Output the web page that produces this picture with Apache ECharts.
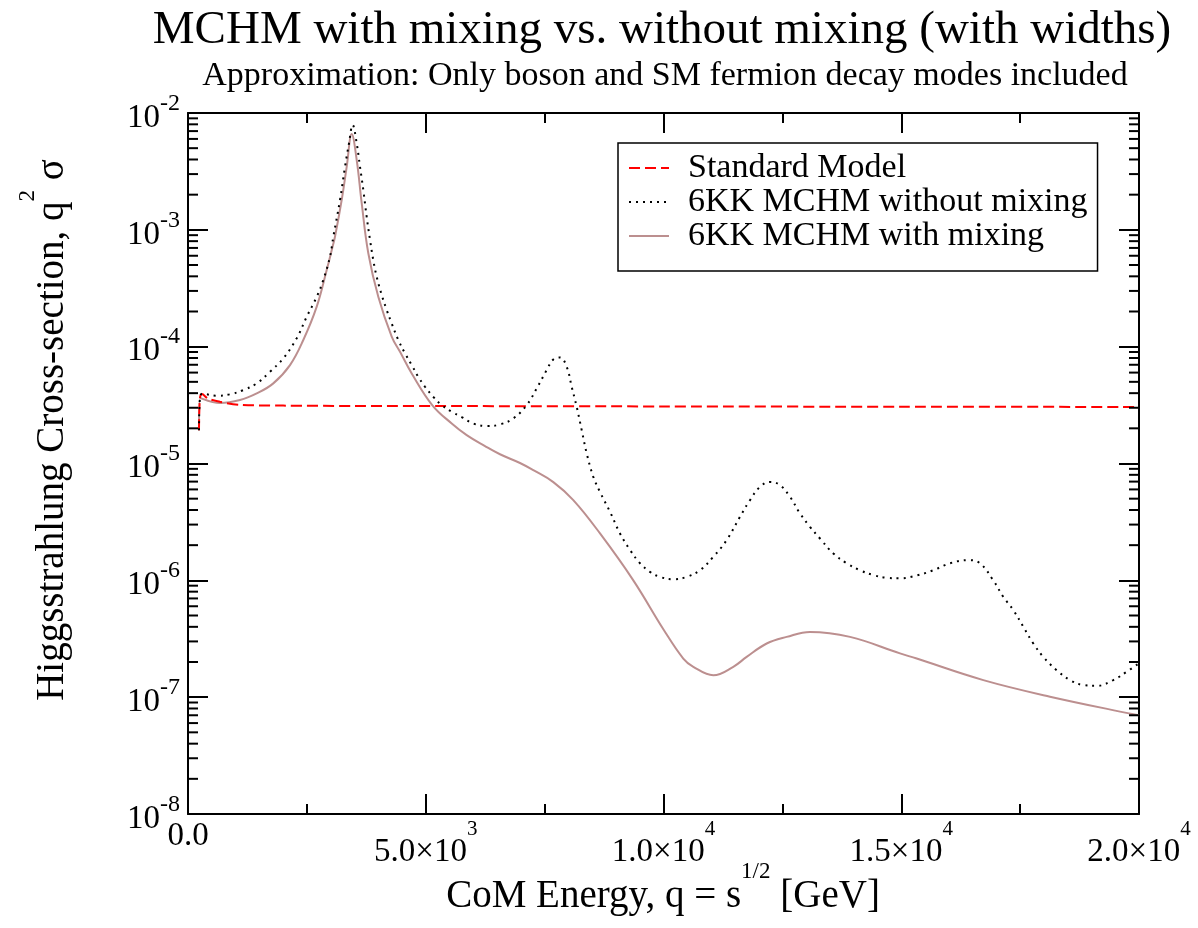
<!DOCTYPE html>
<html>
<head>
<meta charset="utf-8">
<script src="https://cdn.jsdelivr.net/npm/echarts@6/dist/echarts.min.js"></script>
<style>
  html, body { margin: 0; padding: 0; background: #fff; }
  #chart { width: 1198px; height: 928px; }
</style>
</head>
<body>
<div id="chart"></div>
<script>
// Standard Model
const smX = [231, 250, 294, 420, 673, 1094, 2000, 3500, 6000, 10000, 15000, 20000];
const smY = [1.93e-5, 3.6e-5, 3.93e-5, 3.6e-5, 3.37e-5, 3.18e-5, 3.13e-5, 3.11e-5, 3.1e-5, 3.08e-5, 3.06e-5, 3.05e-5];

// 6KK MCHM without mixing
const noMixX = [231, 250, 300, 604, 883, 1163, 1445, 1724, 2004, 2286, 2496, 2707, 2845, 2986, 3056, 3197, 3302, 3386, 3463,
  3548, 3617, 3687, 3758, 3828, 3897, 3968, 4074, 4179, 4284, 4423, 4564, 4705, 4843, 4984, 5159, 5335, 5546, 5756, 6000,
  6282, 6561, 6841, 7123, 7333, 7544, 7683, 7823, 7964, 8069, 8175, 8280, 8385, 8524, 8665, 8875, 9085, 9296, 9506, 9716,
  9926, 10206, 10488, 10768, 11047, 11329, 11609, 11819, 12029, 12240, 12450, 12660, 12871, 13081, 13291, 13571, 13852,
  14133, 14412, 14694, 14974, 15325, 15674, 16025, 16410, 16656, 16935, 17146, 17357, 17567, 17777, 17988, 18269, 18549,
  18830, 19110, 19460, 19741, 20000];
const noMixY = [1.93e-5, 3.6e-5, 3.95e-5, 3.8e-5, 3.91e-5, 4.25e-5, 4.85e-5, 6.1e-5, 7.94e-5, 1.18e-4, 1.8e-4, 2.67e-4, 3.72e-4, 5.89e-4, 8.7e-4, 1.8e-3, 3.47e-3, 5.5e-3, 7.9e-3,
  5.5e-3, 3.47e-3, 2.19e-3, 1.29e-3, 8.2e-4, 5.5e-4, 3.97e-4, 2.77e-4, 2.06e-4, 1.58e-4, 1.14e-4, 8.77e-5, 6.96e-5, 5.52e-5, 4.54e-5, 3.72e-5, 3.16e-5, 2.77e-5, 2.5e-5, 2.2e-5,
  2.09e-5, 2.16e-5, 2.43e-5, 3.16e-5, 4.39e-5, 6.31e-5, 7.78e-5, 8.09e-5, 6.73e-5, 4.54e-5, 3.05e-5, 1.93e-5, 1.22e-5, 7.69e-6, 5.7e-6, 3.86e-6, 2.52e-6, 1.82e-6, 1.4e-6, 1.18e-6,
  1.07e-6, 1.02e-6, 1.07e-6, 1.22e-6, 1.59e-6, 2.21e-6, 3.5e-6, 4.86e-6, 6.31e-6, 6.96e-6, 6.53e-6, 5.19e-6, 3.74e-6, 2.87e-6, 2.28e-6, 1.7e-6, 1.4e-6,
  1.22e-6, 1.11e-6, 1.05e-6, 1.04e-6, 1.1e-6, 1.22e-6, 1.4e-6, 1.49e-6, 1.4e-6, 1.0e-6, 7.23e-7, 5.56e-7, 4.0e-7, 2.88e-7, 2.21e-7, 1.7e-7, 1.4e-7,
  1.27e-7, 1.25e-7, 1.4e-7, 1.65e-7, 1.95e-7];

// 6KK MCHM with mixing
const mixX = [231, 259, 673, 1094, 1445, 1794, 2145, 2425, 2707, 2917, 3022, 3091, 3232, 3338, 3443, 3548, 3653, 3792, 4002,
  4284, 4459, 4705, 5140, 5546, 5861, 6246, 6561, 6982, 7262, 7683, 8103, 8665, 9365, 10000, 10416, 10627, 11047, 11468,
  11749, 12170, 12590, 13081, 13922, 14974, 15325, 16726, 18128, 19880, 20000];
const mixY = [1.93e-5, 3.63e-5, 3.29e-5, 3.49e-5, 3.98e-5, 4.85e-5, 6.95e-5, 1.14e-4, 2.2e-4, 4.53e-4, 6.7e-4, 8.73e-4, 1.8e-3, 3.47e-3, 6.6e-3, 3.96e-3, 1.69e-3, 6.3e-4, 2.67e-4,
  1.22e-4, 9.04e-5, 5.9e-5, 3.15e-5, 2.2e-5, 1.75e-5, 1.41e-5, 1.2e-5, 1.01e-5, 8.77e-6, 6.93e-6, 4.86e-6, 2.52e-6, 1.0e-6, 3.8e-7, 2.14e-7, 1.82e-7, 1.54e-7, 1.82e-7,
  2.21e-7, 2.88e-7, 3.28e-7, 3.62e-7, 3.28e-7, 2.37e-7, 2.14e-7, 1.4e-7, 1.01e-7, 7.14e-8, 7.0e-8];

// tick labels
const xTicks = [0, 5000, 10000, 15000, 20000];
const xTickLabels = [['0.0', ''], ['5.0×10', '3'], ['1.0×10', '4'], ['1.5×10', '4'], ['2.0×10', '4']];
const yTickExps = [-8, -7, -6, -5, -4, -3, -2];
const yMinorTicks = [];
for (let e = -8; e < -2; e++) {
  for (let m = 2; m <= 9; m++) yMinorTicks.push(m * Math.pow(10, e));
}

const xMin = 0, xMax = 20000, yMin = 1e-8, yMax = 1e-2;
const serif = 'Liberation Serif';

function pairs(xs, ys) { return xs.map((x, i) => [x, ys[i]]); }

const myChart = echarts.init(document.getElementById('chart'));

// superscript labels: base aligned to bottom of line box, exponent to top
const xTickRich = {
  b: { fontFamily: serif, fontSize: 33, color: '#000', lineHeight: 34, verticalAlign: 'bottom' },
  s: { fontFamily: serif, fontSize: 21, color: '#000', lineHeight: 50, verticalAlign: 'top' }
};
const yTickRich = {
  b: { fontFamily: serif, fontSize: 33, color: '#000', lineHeight: 34, verticalAlign: 'bottom' },
  s: { fontFamily: serif, fontSize: 24, color: '#000', lineHeight: 43, verticalAlign: 'top' }
};
const titleRich = {
  a: { fontFamily: serif, fontSize: 39, fill: '#000', lineHeight: 42, verticalAlign: 'bottom' },
  s: { fontFamily: serif, fontSize: 23, fill: '#000', lineHeight: 56, verticalAlign: 'top' }
};

const axisCommon = {
  axisLine: { onZero: false, lineStyle: { color: '#000', width: 2 } },
  splitLine: { show: false }
};
const tickStyle = { inside: true, length: 20, lineStyle: { color: '#000', width: 2 } };
const minorStyle = { show: true, splitNumber: 2, length: 10, lineStyle: { color: '#000', width: 2 } };

myChart.setOption({
  backgroundColor: '#fff',
  animation: false,
  grid: { left: 188, right: 59, top: 113, bottom: 114, outerBoundsMode: 'none' },
  graphic: [
    { type: 'text', x: 662, y: 31, style: { text: 'MCHM with mixing vs. without mixing (with widths)', font: '47px "Liberation Serif"', fill: '#000', textAlign: 'center', textVerticalAlign: 'middle' } },
    { type: 'text', x: 665, y: 76, style: { text: 'Approximation: Only boson and SM fermion decay modes included', font: '34px "Liberation Serif"', fill: '#000', textAlign: 'center', textVerticalAlign: 'middle' } },
    { type: 'text', x: 663, y: 888, style: {
      text: '{a|CoM Energy, q = s}{s|1/2}{a| [GeV]}', textAlign: 'center', textVerticalAlign: 'middle', rich: titleRich } },
    { type: 'text', x: 44, y: 430, rotation: Math.PI / 2, style: {
      text: '{a|Higgsstrahlung Cross-section, q}{s|2}{a| σ}', textAlign: 'center', textVerticalAlign: 'middle', rich: titleRich } }
  ],
  legend: {
    data: ['Standard Model', '6KK MCHM without mixing', '6KK MCHM with mixing'],
    orient: 'vertical',
    left: 618,
    top: 143,
    padding: [8, 10, 18, 10],
    itemGap: 0,
    itemWidth: 40,
    itemHeight: 14,
    itemStyle: { opacity: 0 },
    borderColor: '#000',
    borderWidth: 1.5,
    borderRadius: 0,
    backgroundColor: '#fff',
    textStyle: { fontFamily: serif, fontSize: 34, color: '#000', lineHeight: 33, padding: [0, 0, 0, 14] }
  },
  xAxis: [
    Object.assign({
      type: 'value', position: 'bottom', min: xMin, max: xMax, interval: 5000,
      axisTick: tickStyle, minorTick: minorStyle,
      axisLabel: {
        margin: 5,
        formatter: function (v) {
          const i = xTicks.indexOf(v);
          if (i < 0) return '';
          const lab = xTickLabels[i];
          return lab[1] ? '{b|' + lab[0] + '}{s|' + lab[1] + '}' : '{b|' + lab[0] + '}';
        },
        rich: xTickRich
      }
    }, axisCommon),
    Object.assign({
      type: 'value', position: 'top', min: xMin, max: xMax, interval: 5000,
      axisTick: tickStyle, minorTick: minorStyle,
      axisLabel: { show: false }
    }, axisCommon)
  ],
  yAxis: [
    Object.assign({
      type: 'log', logBase: 10, position: 'left', min: yMin, max: yMax, splitNumber: 6,
      axisTick: tickStyle,
      axisLabel: {
        margin: 8,
        formatter: function (v) {
          const e = Math.round(Math.log10(v));
          if (yTickExps.indexOf(e) < 0) return '';
          return '{b|10}{s|' + e + '}';
        },
        rich: yTickRich
      }
    }, axisCommon),
    Object.assign({
      type: 'log', logBase: 10, position: 'right', min: yMin, max: yMax, splitNumber: 6,
      axisTick: tickStyle,
      axisLabel: { show: false }
    }, axisCommon)
  ],
  series: [
    {
      name: 'Standard Model', type: 'line', symbol: 'none', smooth: 0.3,
      data: pairs(smX, smY),
      lineStyle: { color: '#ff0000', width: 2, type: [11, 5] },
      itemStyle: { color: '#ff0000' }, z: 3
    },
    {
      name: '6KK MCHM without mixing', type: 'line', symbol: 'none', smooth: 0.4,
      data: pairs(noMixX, noMixY),
      lineStyle: { color: '#000', width: 2, type: [2, 5] },
      itemStyle: { color: '#000' }, z: 4
    },
    {
      name: '6KK MCHM with mixing', type: 'line', symbol: 'none', smooth: 0.4,
      data: pairs(mixX, mixY),
      lineStyle: { color: '#bc8f8f', width: 2 },
      itemStyle: { color: '#bc8f8f' }, z: 2
    },
    {
      // log-axis minor ticks (2..9 per decade) on left and right frame
      type: 'custom', silent: true, clip: false, z: 5,
      data: yMinorTicks.map(v => [xMin, v]),
      renderItem: function (params, api) {
        const v = api.value(1);
        const l = api.coord([xMin, v]);
        const r = api.coord([xMax, v]);
        return {
          type: 'group',
          children: [
            { type: 'line', shape: { x1: l[0], y1: l[1], x2: l[0] + 10, y2: l[1] }, style: { stroke: '#000', lineWidth: 2 } },
            { type: 'line', shape: { x1: r[0] - 10, y1: r[1], x2: r[0], y2: r[1] }, style: { stroke: '#000', lineWidth: 2 } }
          ]
        };
      }
    }
  ]
});
</script>
</body>
</html>
